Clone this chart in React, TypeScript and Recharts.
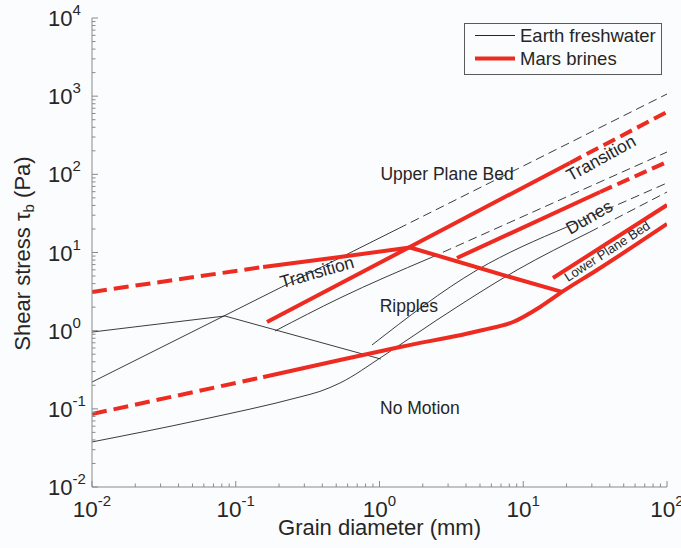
import React from 'react';
import { LineChart, Line, XAxis, YAxis, Legend, ReferenceDot } from 'recharts';

const FONT = '"Liberation Sans", Arial, Helvetica, sans-serif';
const RED = '#ee2b20';
const BLACK = '#262626';
const AXIS = '#8a8a8a';
const BG = '#fbfcfe';
const TXT = '#262626';

// ---- tick labels ----
const X_MAJOR = [0.01, 0.1, 1, 10, 100];
const X_EXP = ['-2', '-1', '0', '1', '2'];
const Y_MAJOR = [0.01, 0.1, 1, 10, 100, 1000, 10000];
const Y_EXP = ['-2', '-1', '0', '1', '2', '3', '4'];
const MINOR_STEPS = [2, 3, 4, 5, 6, 7, 8, 9];

// ---- Earth freshwater (thin black) ----
const earthRippleTop = [{ x: 0.01, y: 0.96 }, { x: 0.0841, y: 1.54 }, { x: 1.02, y: 0.434 }];
const earthUpperSolid = [{ x: 0.01, y: 0.22 }, { x: 1.35, y: 20.2 }];
const earthUpperDashed = [{ x: 1.35, y: 20.2 }, { x: 100, y: 1066 }];
const earthDuneSolid = [{ x: 0.1875, y: 0.99 }, { x: 0.531, y: 2.62 }, { x: 2.25, y: 8.51 }];
const earthDuneDashed = [{ x: 2.25, y: 8.51 }, { x: 100, y: 193 }];
const earthLowerPlaneSolid = [{ x: 0.887, y: 0.656 }, { x: 4.77, y: 5.97 }, { x: 20.1, y: 21.2 }];
const earthLowerPlaneDashed = [{ x: 20.1, y: 21.2 }, { x: 100, y: 77.5 }];
const earthThresholdSolid = [
  { x: 0.01, y: 0.0377 }, { x: 0.0564, y: 0.072 }, { x: 0.28, y: 0.142 }, { x: 0.385, y: 0.167 },
  { x: 0.531, y: 0.214 }, { x: 1.06, y: 0.474 }, { x: 2.51, y: 1.37 }, { x: 9.05, y: 5.97 }, { x: 29.1, y: 18.3 },
];
const earthThresholdDashed = [{ x: 29.1, y: 18.3 }, { x: 100, y: 59.4 }];

// ---- Mars brines (thick red) ----
const marsThresholdDashed = [{ x: 0.01, y: 0.0859 }, { x: 0.155, y: 0.255 }];
const marsThresholdSolid = [
  { x: 0.155, y: 0.255 }, { x: 0.531, y: 0.422 }, { x: 1.39, y: 0.618 }, { x: 5.25, y: 1.02 },
  { x: 8.49, y: 1.29 }, { x: 13.1, y: 2.01 }, { x: 18.6, y: 3.13 }, { x: 32.6, y: 5.97 }, { x: 100, y: 23.2 },
];
const marsLowerPlane = [{ x: 16.1, y: 4.72 }, { x: 100, y: 40.5 }];
const marsRippleDune = [{ x: 1.63, y: 11.6 }, { x: 8.09, y: 4.86 }, { x: 18.6, y: 3.13 }];
const marsRippleTransDashed = [{ x: 0.01, y: 3.13 }, { x: 0.155, y: 6.53 }];
const marsRippleTransSolid = [{ x: 0.155, y: 6.53 }, { x: 0.531, y: 8.77 }, { x: 1.63, y: 11.6 }];
const marsUpperSolid = [{ x: 0.165, y: 1.29 }, { x: 21.1, y: 140 }];
const marsUpperDashed = [{ x: 21.1, y: 140 }, { x: 100, y: 628 }];
const marsDuneTransSolid = [{ x: 3.46, y: 8.51 }, { x: 34.2, y: 59.4 }];
const marsDuneTransDashed = [{ x: 34.2, y: 59.4 }, { x: 100, y: 144 }];

const withMinors = (majors: number[]) => {
  const out: number[] = [];
  majors.forEach((m, i) => {
    out.push(m);
    if (i < majors.length - 1) MINOR_STEPS.forEach((k) => out.push(+(m * k).toPrecision(6)));
  });
  return out;
};
const X_TICKS = withMinors(X_MAJOR);
const Y_TICKS = withMinors(Y_MAJOR);

const majorIndex = (majors: number[], v: number) =>
  majors.findIndex((m) => Math.abs(m - v) / m < 1e-6);

const BottomTick = (props: any) => {
  const { x, y, payload } = props;
  const i = majorIndex(X_MAJOR, payload.value);
  const major = i >= 0;
  return (
    <g>
      <line x1={x} x2={x} y1={y} y2={y - (major ? 6 : 3.5)} stroke={AXIS} strokeWidth={1} />
      {major && (
        <text x={x} y={y + 30} textAnchor="middle" fontSize={22.5} fontFamily={FONT} fill={TXT}>
          10<tspan dy={-11} fontSize={15}>{X_EXP[i]}</tspan>
        </text>
      )}
    </g>
  );
};
const TopTick = (props: any) => {
  const { x, y, payload } = props;
  const major = majorIndex(X_MAJOR, payload.value) >= 0;
  return <line x1={x} x2={x} y1={y} y2={y + (major ? 6 : 3.5)} stroke={AXIS} strokeWidth={1} />;
};
const LeftTick = (props: any) => {
  const { x, y, payload } = props;
  const i = majorIndex(Y_MAJOR, payload.value);
  const major = i >= 0;
  return (
    <g>
      <line x1={x} x2={x + (major ? 6 : 3.5)} y1={y} y2={y} stroke={AXIS} strokeWidth={1} />
      {major && (
        <text x={x - 44} y={y + 8} textAnchor="start" fontSize={22} fontFamily={FONT} fill={TXT}>
          10<tspan dy={-11} fontSize={15}>{Y_EXP[i]}</tspan>
        </text>
      )}
    </g>
  );
};
const RightTick = (props: any) => {
  const { x, y, payload } = props;
  const major = majorIndex(Y_MAJOR, payload.value) >= 0;
  return <line x1={x} x2={x - (major ? 6 : 3.5)} y1={y} y2={y} stroke={AXIS} strokeWidth={1} />;
};

const annot = (text: string, size: number, angle: number) => (props: any) => {
  const vb = props.viewBox || {};
  const cx = (vb.x ?? 0) + (vb.width ?? 0) / 2;
  const cy = (vb.y ?? 0) + (vb.height ?? 0) / 2;
  return (
    <text
      x={cx}
      y={cy}
      transform={`rotate(${angle} ${cx} ${cy})`}
      textAnchor="middle"
      dominantBaseline="central"
      fontSize={size}
      fontFamily={FONT}
      fill={TXT}
    >
      {text}
    </text>
  );
};

const LegendBox = () => (
  <div style={{ width: 198, height: 52, position: 'relative' }}>
    <svg width={198} height={52} style={{ position: 'absolute', left: 0, top: 0 }}>
      <rect x={0.5} y={0.5} width={197} height={51} fill={BG} stroke="#5a5a5a" strokeWidth={1} />
      <line x1={11} x2={51} y1={12.5} y2={12.5} stroke={BLACK} strokeWidth={1} />
      <line x1={11} x2={51} y1={35.5} y2={35.5} stroke={RED} strokeWidth={4} />
      <text x={56} y={12.5} dominantBaseline="central" fontSize={18.5} fontFamily={FONT} fill={TXT}>
        Earth freshwater
      </text>
      <text x={56} y={35.5} dominantBaseline="central" fontSize={18.5} fontFamily={FONT} fill={TXT}>
        Mars brines
      </text>
    </svg>
  </div>
);

const thin = (key: string, data: any[], dashed: boolean, curved = false) => (
  <Line
    key={key}
    data={data}
    dataKey="y"
    type={curved ? 'monotone' : 'linear'}
    stroke={BLACK}
    strokeWidth={0.9}
    strokeDasharray={dashed ? '9 5' : undefined}
    dot={false}
    activeDot={false}
    isAnimationActive={false}
    legendType="none"
  />
);
const thick = (key: string, data: any[], dashed: boolean, curved = false, dash = '15 7') => (
  <Line
    key={key}
    data={data}
    dataKey="y"
    type={curved ? 'monotone' : 'linear'}
    stroke={RED}
    strokeWidth={4}
    strokeDasharray={dashed ? dash : undefined}
    dot={false}
    activeDot={false}
    isAnimationActive={false}
    legendType="none"
  />
);

export default function App() {
  return (
    <div style={{ position: 'absolute', left: 0, top: 0, width: 681, height: 548, background: BG }}>
      <LineChart width={681} height={548} margin={{ top: 18, right: 14, bottom: 0, left: 0 }}>
        <XAxis
          xAxisId={0}
          dataKey="x"
          type="number"
          scale="log"
          domain={[0.01, 100]}
          allowDataOverflow
          ticks={X_TICKS}
          interval={0}
          height={61}
          tickLine={false}
          tickSize={0}
          tickMargin={0}
          axisLine={{ stroke: AXIS }}
          tick={<BottomTick />}
          label={{
            content: (p: any) => {
              const vb = p.viewBox || {};
              return (
                <text
                  x={vb.x + vb.width / 2}
                  y={vb.y + 48}
                  textAnchor="middle"
                  fontSize={22}
                  fontFamily={FONT}
                  fill={TXT}
                >
                  Grain diameter (mm)
                </text>
              );
            },
          }}
        />
        <XAxis
          xAxisId="top"
          orientation="top"
          dataKey="x"
          type="number"
          scale="log"
          domain={[0.01, 100]}
          allowDataOverflow
          ticks={X_TICKS}
          interval={0}
          height={0}
          tickLine={false}
          tickSize={0}
          tickMargin={0}
          axisLine={{ stroke: AXIS }}
          tick={<TopTick />}
        />
        <YAxis
          yAxisId={0}
          type="number"
          scale="log"
          domain={[0.01, 10000]}
          allowDataOverflow
          ticks={Y_TICKS}
          interval={0}
          width={92}
          tickLine={false}
          tickSize={0}
          tickMargin={0}
          axisLine={{ stroke: AXIS }}
          tick={<LeftTick />}
          label={{
            content: (p: any) => {
              const vb = p.viewBox || {};
              const cx = vb.x + 22;
              const cy = vb.y + vb.height / 2 + 1;
              return (
                <text
                  x={cx}
                  y={cy}
                  transform={`rotate(-90 ${cx} ${cy})`}
                  textAnchor="middle"
                  dominantBaseline="central"
                  fontSize={22}
                  fontFamily={FONT}
                  fill={TXT}
                >
                  Shear stress τ<tspan dy={6} fontSize={15}>b</tspan>
                  <tspan dy={-6}> (Pa)</tspan>
                </text>
              );
            },
          }}
        />
        <YAxis
          yAxisId="right"
          orientation="right"
          type="number"
          scale="log"
          domain={[0.01, 10000]}
          allowDataOverflow
          ticks={Y_TICKS}
          interval={0}
          width={0}
          tickLine={false}
          tickSize={0}
          tickMargin={0}
          axisLine={{ stroke: AXIS }}
          tick={<RightTick />}
        />

        {thin('e1', earthRippleTop, false)}
        {thin('e2', earthUpperSolid, false)}
        {thin('e3', earthUpperDashed, true)}
        {thin('e4', earthDuneSolid, false, true)}
        {thin('e5', earthDuneDashed, true)}
        {thin('e6', earthLowerPlaneSolid, false, true)}
        {thin('e7', earthLowerPlaneDashed, true)}
        {thin('e8', earthThresholdSolid, false, true)}
        {thin('e9', earthThresholdDashed, true)}

        {thick('m1', marsThresholdDashed, true)}
        {thick('m2', marsThresholdSolid, false, true)}
        {thick('m3', marsLowerPlane, false)}
        {thick('m4', marsRippleDune, false)}
        {thick('m5', marsRippleTransDashed, true)}
        {thick('m6', marsRippleTransSolid, false)}
        {thick('m7', marsUpperSolid, false)}
        {thick('m8', marsUpperDashed, true, false, '13 6')}
        {thick('m9', marsDuneTransSolid, false)}
        {thick('m10', marsDuneTransDashed, true, false, '13 6')}

        <ReferenceDot x={2.95} y={101} r={1} fill="none" stroke="none" label={annot('Upper Plane Bed', 17.5, 0)} />
        <ReferenceDot x={1.6} y={2.07} r={1} fill="none" stroke="none" label={annot('Ripples', 17.5, 0)} />
        <ReferenceDot x={1.91} y={0.1026} r={1} fill="none" stroke="none" label={annot('No Motion', 17.5, 0)} />
        <ReferenceDot x={0.367} y={5.63} r={1} fill="none" stroke="none" label={annot('Transition', 17.5, -16)} />
        <ReferenceDot x={34.7} y={162} r={1} fill="none" stroke="none" label={annot('Transition', 17.5, -29)} />
        <ReferenceDot x={28.7} y={28.4} r={1} fill="none" stroke="none" label={annot('Dunes', 17.5, -30)} />
        <ReferenceDot x={38.3} y={10.4} r={1} fill="none" stroke="none" label={annot('Lower Plane Bed', 13, -33)} />

        <Legend
          layout="vertical"
          align="center"
          verticalAlign="middle"
          content={<LegendBox />}
          wrapperStyle={{ position: 'absolute', left: 464, top: 23, width: 198, height: 52 }}
        />
      </LineChart>
    </div>
  );
}
